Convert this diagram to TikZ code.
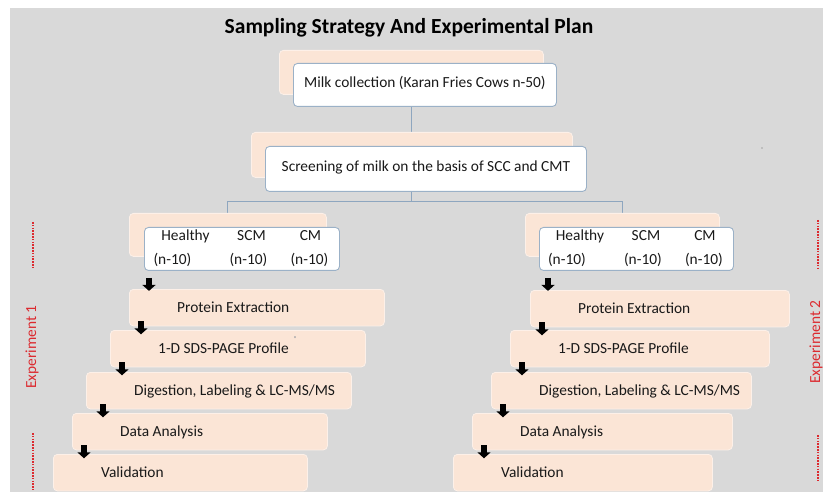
\documentclass[tikz,border=0pt]{standalone}
\usepackage{fontspec}
\setmainfont{Carlito}
\usetikzlibrary{arrows.meta,calc}

\definecolor{canvas}{HTML}{D9D9D9}
\definecolor{peach}{HTML}{FBE5D6}
\definecolor{peachedge}{HTML}{FDF0E8}
\definecolor{frame}{HTML}{9BB1C7}
\definecolor{linkcol}{HTML}{8EA6BF}
\definecolor{expred}{HTML}{DC2A2F}

\pgfdeclarelayer{canvaslayer}
\pgfdeclarelayer{linklayer}
\pgfsetlayers{canvaslayer,linklayer,main}

\tikzset{
  bodyfont/.style={font=\fontsize{15.4}{18.5}\selectfont},
  backbox/.style={fill=peach, draw=peachedge, line width=0.8pt, rounded corners=4pt,
    inner sep=0pt, anchor=north west},
  frontbox/.style={fill=white, draw=frame, line width=0.9pt, rounded corners=4pt,
    inner sep=0pt, anchor=north west, bodyfont, text=black!90,
    text height=1.5ex, text depth=.25ex},
  stepbox/.style={fill=peach, draw=peachedge, line width=0.8pt, rounded corners=4pt,
    inner sep=0pt, minimum height=36.5pt, anchor=north west},
  steplabel/.style={anchor=west, xshift=48pt, yshift=-1.5pt, inner sep=0pt, bodyfont,
    text=black!90, text height=1.5ex, text depth=.25ex},
  grouptext/.style={inner sep=0pt, bodyfont, text=black!90, text height=1.5ex, text depth=.25ex},
  linkline/.style={draw=linkcol, line width=0.9pt},
  blockarrow/.style={black, line width=6.5pt, -{Triangle[width=13pt,length=6pt]}},
  exptext/.style={rotate=90, text=expred, bodyfont, inner sep=0pt},
  expdash/.style={draw=expred, line width=1.3pt, dash pattern=on 1.6pt off 1.2pt},
}

\begin{document}
\begin{tikzpicture}[x=1pt,y=-1pt]
  \useasboundingbox (0,0) rectangle (823,492);
  \begin{pgfonlayer}{canvaslayer}
    \fill[canvas] (10,8) rectangle (823,492);
  \end{pgfonlayer}

  % title
  \node[font=\fontsize{21.5}{24}\selectfont\bfseries, inner sep=0pt] (title) at (409,28)
    {Sampling Strategy And Experimental Plan};

  % milk collection
  \node[backbox, minimum width=264pt, minimum height=44pt] (milkB) at (279,50) {};
  \node[frontbox, minimum width=263pt, minimum height=43pt] (milkF) at (293,63)
    {Milk collection (Karan Fries Cows n-50)};

  % screening
  \node[backbox, minimum width=321pt, minimum height=45pt] (scrB) at (251,132) {};
  \node[frontbox, minimum width=321pt, minimum height=45pt] (scrF) at (265,146)
    {Screening of milk on the basis of SCC and CMT};

  % sample groups, left
  \node[backbox, minimum width=197pt, minimum height=43pt] (gLb) at (129,213) {};
  \node[frontbox, minimum width=195pt, minimum height=43pt] (gLf) at (144,227) {};
  \node[grouptext] (hL)  at ($(gLf.center)+(-56.5,-11)$) {Healthy};
  \node[grouptext] (sL)  at ($(gLf.center)+(9.5,-11)$)   {SCM};
  \node[grouptext] (cL)  at ($(gLf.center)+(68.5,-11)$)  {CM};
  \node[grouptext] (nL1) at ($(gLf.center)+(-69.5,13)$)  {(n-10)};
  \node[grouptext] (nL2) at ($(gLf.center)+(6.5,13)$)    {(n-10)};
  \node[grouptext] (nL3) at ($(gLf.center)+(67.5,13)$)   {(n-10)};

  % sample groups, right
  \node[backbox, minimum width=194pt, minimum height=43pt] (gRb) at (525,213) {};
  \node[frontbox, minimum width=194pt, minimum height=43pt] (gRf) at (539,227) {};
  \node[grouptext] (hR)  at ($(gRf.center)+(-56.5,-11)$) {Healthy};
  \node[grouptext] (sR)  at ($(gRf.center)+(9.5,-11)$)   {SCM};
  \node[grouptext] (cR)  at ($(gRf.center)+(68.5,-11)$)  {CM};
  \node[grouptext] (nR1) at ($(gRf.center)+(-69.5,13)$)  {(n-10)};
  \node[grouptext] (nR2) at ($(gRf.center)+(6.5,13)$)    {(n-10)};
  \node[grouptext] (nR3) at ($(gRf.center)+(67.5,13)$)   {(n-10)};

  % tree links
  \coordinate (split) at ($(scrB.south)+(0,24)$);
  \begin{pgfonlayer}{linklayer}
    \draw[linkline] (milkB.south) -- (milkB.south |- scrB.north);
    \draw[linkline] (scrB.south) -- (split) -| (gLb.north);
    \draw[linkline] (split) -| (gRb.north);
  \end{pgfonlayer}

  % experiment 1 steps
  \node[stepbox, minimum width=255pt, label={[steplabel]west:Protein Extraction}] (pe1) at (129,289) {};
  \node[stepbox, minimum width=255pt, label={[steplabel]west:1-D SDS-PAGE Profile}] (sds1) at (110,330) {};
  \node[stepbox, minimum width=265pt, label={[steplabel]west:Digestion, Labeling \& LC-MS/MS}] (dig1) at (86,372) {};
  \node[stepbox, minimum width=255pt, label={[steplabel]west:Data Analysis}] (da1) at (72,413) {};
  \node[stepbox, minimum width=254pt, label={[steplabel]west:Validation}] (val1) at (53,454) {};
  \node[font=\fontsize{7}{7}\selectfont, text=frame!70!black, inner sep=0pt] (ast) at (295,339) {*};

  % experiment 2 steps
  \node[stepbox, minimum width=259pt, label={[steplabel]west:Protein Extraction}] (pe2) at (530,290) {};
  \node[stepbox, minimum width=259pt, label={[steplabel]west:1-D SDS-PAGE Profile}] (sds2) at (510,330) {};
  \node[stepbox, minimum width=260pt, label={[steplabel]west:Digestion, Labeling \& LC-MS/MS}] (dig2) at (491,372) {};
  \node[stepbox, minimum width=260pt, label={[steplabel]west:Data Analysis}] (da2) at (472,413) {};
  \node[stepbox, minimum width=259pt, label={[steplabel]west:Validation}] (val2) at (453,454) {};

  % block arrows, left column
  \draw[blockarrow] ([shift={(5,7)}]gLf.south west) -- ++(0,13);
  \draw[blockarrow] ([shift={(12,-5)}]pe1.south west) -- ++(0,13);
  \draw[blockarrow] ([shift={(12,-5)}]sds1.south west) -- ++(0,13);
  \draw[blockarrow] ([shift={(17,-5)}]dig1.south west) -- ++(0,13);
  \draw[blockarrow] ([shift={(12,-5)}]da1.south west) -- ++(0,13);

  % block arrows, right column
  \draw[blockarrow] ([shift={(9,7)}]gRf.south west) -- ++(0,13);
  \draw[blockarrow] ([shift={(12,-5)}]pe2.south west) -- ++(0,13);
  \draw[blockarrow] ([shift={(12,-5)}]sds2.south west) -- ++(0,13);
  \draw[blockarrow] ([shift={(12,-5)}]dig2.south west) -- ++(0,13);
  \draw[blockarrow] ([shift={(12,-5)}]da2.south west) -- ++(0,13);

  % experiment labels with dashed markers
  \node[exptext] (exp1) at (32,347) {Experiment 1};
  \draw[expdash] (33,222) -- (33,268);
  \draw[expdash] (33,433) -- (33,490);
  \node[exptext] (exp2) at (816,342) {Experiment 2};
  \draw[expdash] (818,220) -- (818,270);
  \draw[expdash] (818,435) -- (818,482);

  \fill[black!60] (762,148) circle (0.7);
\end{tikzpicture}
\end{document}
